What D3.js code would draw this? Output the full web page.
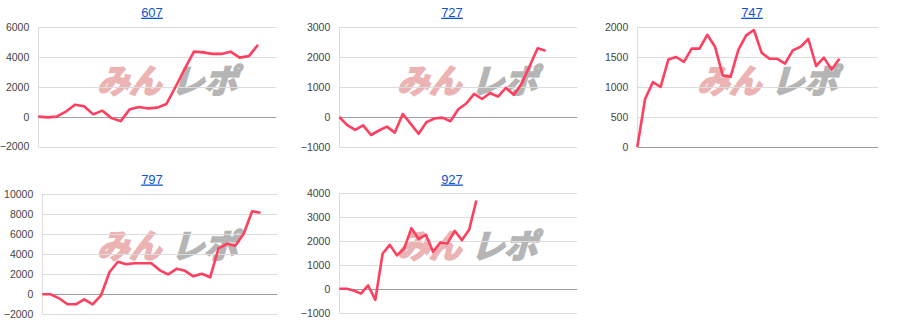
<!DOCTYPE html>
<html><head><meta charset="utf-8">
<script src="https://cdn.jsdelivr.net/npm/d3@7"></script>
<style>html,body{margin:0;padding:0;background:#fff;}svg{display:block;}</style>
</head><body>
<svg id="c" width="904" height="335"></svg>
<script>
// ---- data ----
const titles = ["607", "727", "747", "797", "927"];
const values607 = [0, -50, 0, 330, 800, 700, 150, 400, -100, -300, 500, 650, 550, 600, 850, 2000, 3200, 4350, 4300, 4200, 4200, 4350, 3950, 4050, 4800];
const values727 = [0, -270, -430, -280, -600, -450, -320, -520, 100, -230, -560, -170, -50, -20, -140, 260, 450, 770, 600, 800, 680, 970, 740, 1120, 1700, 2290, 2210];
const values747 = [0, 800, 1080, 1000, 1460, 1500, 1420, 1640, 1640, 1870, 1670, 1190, 1170, 1620, 1860, 1950, 1570, 1470, 1470, 1390, 1610, 1670, 1800, 1350, 1490, 1290, 1470];
const values797 = [0, 0, -400, -1000, -1000, -500, -1000, -100, 2200, 3250, 3000, 3100, 3100, 3100, 2400, 2000, 2550, 2350, 1800, 2050, 1700, 4600, 5050, 4850, 6050, 8300, 8150];
const values927 = [0, 0, -70, -200, 140, -460, 1470, 1840, 1400, 1690, 2540, 2090, 2260, 1550, 1940, 1900, 2430, 2040, 2470, 3700];
const ticks607 = [-2000, 0, 2000, 4000, 6000];
const ticks727 = [-1000, 0, 1000, 2000, 3000];
const ticks747 = [0, 500, 1000, 1500, 2000];
const ticks797 = [-2000, 0, 2000, 4000, 6000, 8000, 10000];
const ticks927 = [-1000, 0, 1000, 2000, 3000, 4000];
const xSlots = [26, 30, 31, 28, 33];

const seriesList = [values607, values727, values747, values797, values927];
const tickList = [ticks607, ticks727, ticks747, ticks797, ticks927];

// ---- layout ----
const plots = [
  {col: 0,   row: 0,   left: 38.3,  right: 276.3, top: 27,    bottom: 146.5},
  {col: 300, row: 0,   left: 339.3, right: 577.3, top: 27,    bottom: 147},
  {col: 600, row: 0,   left: 637.3, right: 878.3, top: 27,    bottom: 147},
  {col: 0,   row: 165, left: 42.3,  right: 277.3, top: 194.3, bottom: 314.3},
  {col: 300, row: 165, left: 339.3, right: 577.3, top: 193.3, bottom: 312.7}
];
const lineColor = "#ff3f5f";
const svg = d3.select("#c");
const font = "Arial, 'Liberation Sans', sans-serif";

plots.forEach((p, i) => {
  const vals = seriesList[i];
  const ticks = tickList[i];
  const g = svg.append("g");
  const x = d3.scaleLinear().domain([0, xSlots[i]]).range([p.left, p.right]);
  const y = d3.scaleLinear().domain(d3.extent(ticks)).range([p.bottom, p.top]);

  // watermark (behind gridlines)
  const wm = g.append("g")
    .attr("transform", `translate(${p.col + 97},${p.row + 93}) skewX(-16)`)
    .attr("opacity", 0.5)
    .style("font-family", "'Noto Sans CJK JP', sans-serif").style("font-weight", "bold")
    .style("font-size", "33px");
  wm.append("text").attr("x", 0).attr("y", 0).attr("fill", "#d86a6a").attr("stroke", "#d86a6a").attr("stroke-width", 2.2)
    .attr("textLength", 64).attr("lengthAdjust", "spacingAndGlyphs").text("みん");
  wm.append("text").attr("x", 74).attr("y", 0).attr("fill", "#6e6e6e").attr("stroke", "#6e6e6e").attr("stroke-width", 2.2)
    .attr("textLength", 66).attr("lengthAdjust", "spacingAndGlyphs").text("レポ");

  // gridlines
  g.selectAll("line.grid").data(ticks).join("line")
    .attr("x1", p.left).attr("x2", p.right)
    .attr("y1", d => Math.round(y(d)) + 0.5).attr("y2", d => Math.round(y(d)) + 0.5)
    .attr("stroke", d => d === 0 ? "#9e9e9e" : "#dcdcdc").attr("stroke-width", 1);
  // left axis line
  g.append("line").attr("x1", Math.round(p.left) + 0.5).attr("x2", Math.round(p.left) + 0.5)
    .attr("y1", p.top).attr("y2", p.bottom).attr("stroke", "#dcdcdc");

  // y axis labels via d3 axis
  const axis = d3.axisLeft(y).tickValues(ticks).tickSize(0).tickPadding(9).tickFormat(d3.format("d"));
  const ag = g.append("g").attr("transform", `translate(${p.left},0)`).call(axis);
  ag.select(".domain").remove();
  ag.selectAll("text").attr("fill", "#444").style("font-family", font).style("font-size", "10.5px");

  // line
  const line = d3.line().x((d, k) => x(k)).y(d => y(d));
  g.append("path").datum(vals).attr("d", line).attr("fill", "none")
    .attr("stroke", lineColor).attr("stroke-width", 2.6).attr("stroke-linejoin", "round");

  // title
  g.append("text").attr("x", p.col + 152).attr("y", p.row + (p.row ? 18.5 : 16.7))
    .attr("text-anchor", "middle").attr("fill", "#1155cc")
    .style("font-family", font).style("font-size", "13px").style("text-decoration", "underline")
    .text(titles[i]);
});
</script>
</body></html>
